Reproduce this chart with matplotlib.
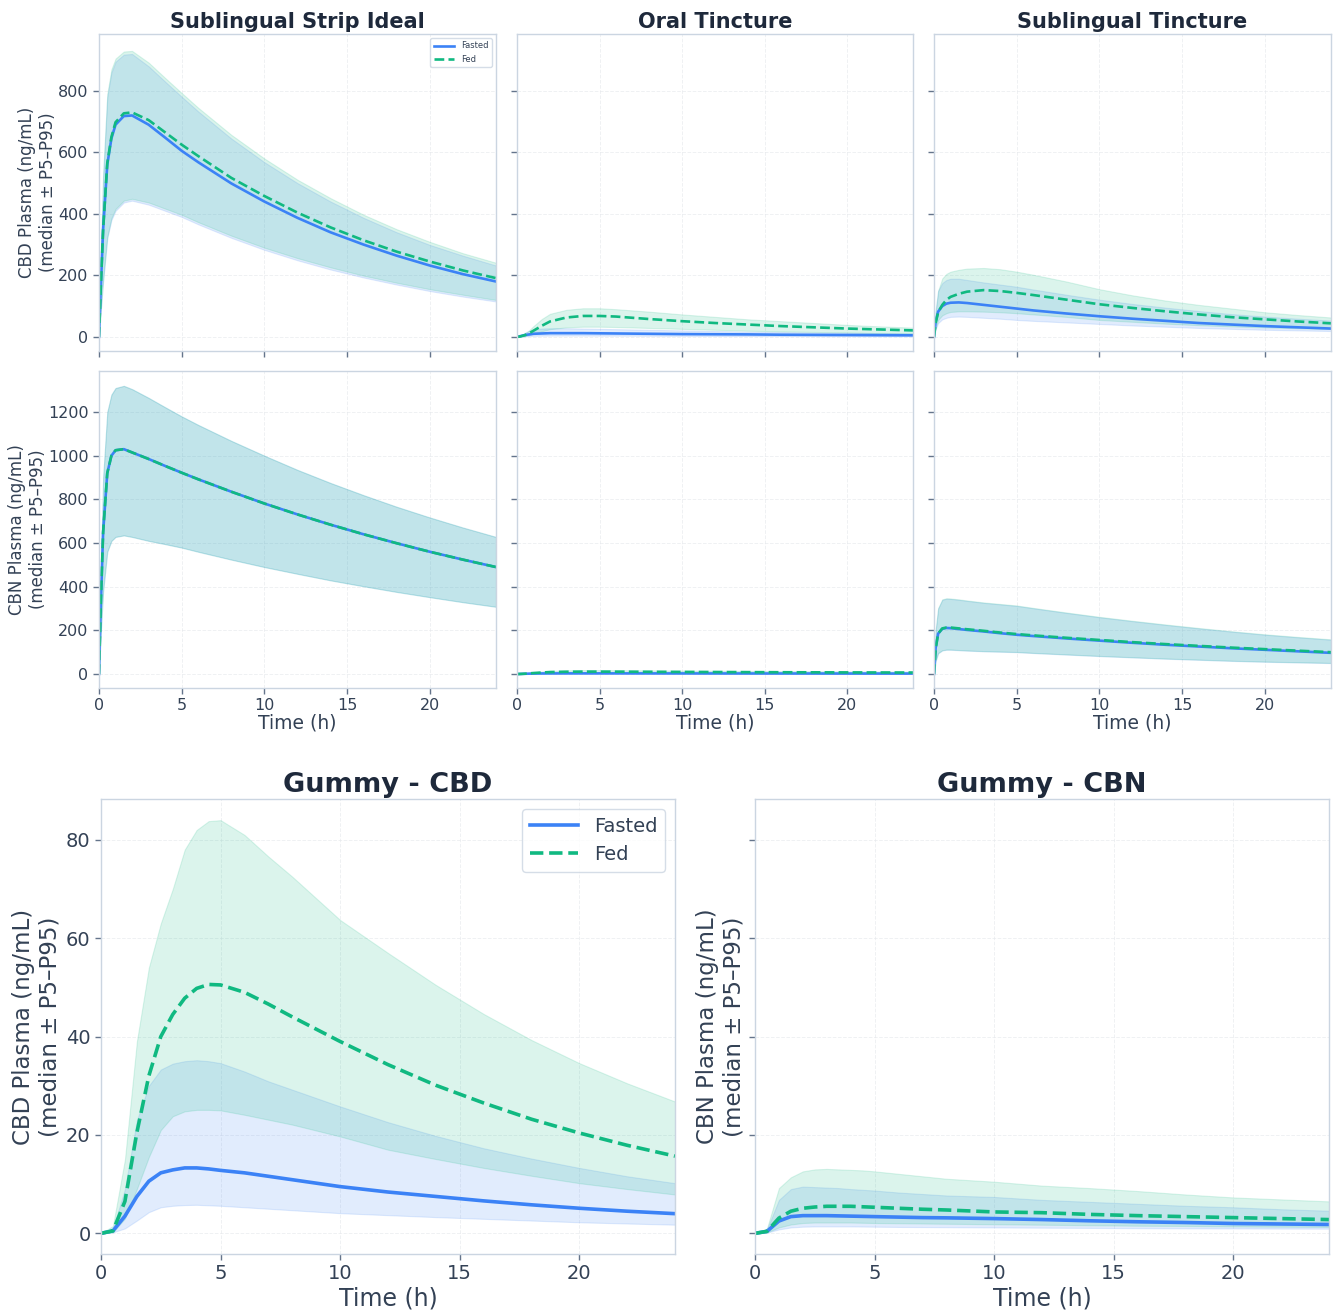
import matplotlib
matplotlib.use("Agg")
import matplotlib.pyplot as plt

# ---------------- data ----------------
T_fast = [0, 0.1, 0.25, 0.5, 0.75, 1, 1.5, 2, 3, 4, 5, 6, 8, 10, 12, 14, 16, 18, 20, 22, 24]
T_gummy = [0, 0.5, 1, 1.5, 2, 2.5, 3, 3.5, 4, 4.5, 5, 6, 7, 8, 10, 12, 14, 16, 18, 20, 22, 24]

# Sublingual Strip Ideal - CBD
strip_cbd_fasted_med = [0, 150, 350, 560, 645, 690, 718, 720, 690, 648, 605, 568, 499, 440, 387, 340, 300, 264, 232, 204, 180]
strip_cbd_fasted_p95 = [0, 250, 520, 780, 860, 895, 918, 920, 880, 830, 781, 733, 645, 568, 500, 440, 387, 340, 299, 264, 232]
strip_cbd_fasted_p5 = [0, 80, 180, 320, 380, 410, 437, 443, 430, 410, 390, 366, 322, 283, 249, 219, 193, 170, 149, 131, 115]
strip_cbd_fed_med = [0, 150, 350, 565, 650, 698, 727, 730, 705, 665, 625, 588, 517, 458, 404, 356, 314, 277, 245, 216, 191]
strip_cbd_fed_p95 = [0, 255, 530, 790, 870, 905, 928, 930, 892, 842, 793, 745, 657, 580, 511, 451, 397, 350, 309, 272, 241]
strip_cbd_fed_p5 = [0, 82, 185, 325, 386, 416, 443, 449, 437, 417, 397, 373, 329, 290, 256, 226, 199, 176, 155, 137, 120]

# Sublingual Strip Ideal - CBN
strip_cbn_fasted_med = [0, 300, 650, 920, 1000, 1025, 1030, 1015, 985, 953, 922, 892, 835, 781, 731, 684, 640, 599, 560, 524, 490]
strip_cbn_fasted_p95 = [0, 450, 900, 1200, 1280, 1310, 1320, 1305, 1265, 1222, 1180, 1141, 1068, 1000, 935, 875, 819, 766, 717, 671, 628]
strip_cbn_fasted_p5 = [0, 180, 380, 560, 610, 628, 635, 628, 610, 595, 579, 560, 524, 490, 459, 429, 402, 376, 352, 329, 308]
strip_cbn_fed_med = [0, 300, 650, 920, 1000, 1025, 1030, 1015, 985, 953, 922, 892, 835, 781, 731, 684, 640, 599, 560, 524, 490]
strip_cbn_fed_p95 = [0, 450, 900, 1200, 1280, 1310, 1320, 1305, 1265, 1222, 1180, 1141, 1068, 1000, 935, 875, 819, 766, 717, 671, 628]
strip_cbn_fed_p5 = [0, 180, 380, 560, 610, 628, 635, 628, 610, 595, 579, 560, 524, 490, 459, 429, 402, 376, 352, 329, 308]

# Oral Tincture - CBD
oral_cbd_fasted_med = [0, 1, 3, 6, 8, 10, 11, 12, 12, 12, 11.5, 11, 10, 9, 8.5, 8, 7, 6.5, 6, 5.5, 5]
oral_cbd_fasted_p95 = [0, 2, 6, 14, 20, 24, 27, 28, 28, 27, 26, 25, 23, 21, 19, 17, 16, 14, 13, 12, 11]
oral_cbd_fasted_p5 = [0, 0.3, 1, 2, 3, 3.5, 4, 4.2, 4.3, 4.2, 4, 3.9, 3.6, 3.3, 3, 2.8, 2.6, 2.4, 2.2, 2, 1.8]
oral_cbd_fed_med = [0, 0.5, 2, 6, 12, 20, 36, 50, 63, 68, 68, 66, 58, 51, 45, 40, 35, 31, 27, 24, 21]
oral_cbd_fed_p95 = [0, 1, 4, 12, 22, 35, 58, 75, 88, 93, 93, 90, 82, 73, 65, 57, 51, 45, 39, 34, 30]
oral_cbd_fed_p5 = [0, 0.2, 1, 3, 6, 10, 18, 25, 31, 33, 33, 32, 29, 26, 23, 20, 18, 16, 14, 12, 11]

# Oral Tincture - CBN
oral_cbn_fasted_med = [0, 0.2, 0.6, 1.2, 1.8, 2.2, 2.6, 2.8, 3, 3, 3, 2.95, 2.85, 2.75, 2.65, 2.55, 2.45, 2.35, 2.25, 2.15, 2.1]
oral_cbn_fasted_p95 = [0, 0.4, 1.2, 2.4, 3.6, 4.4, 5.2, 5.6, 6, 6, 6, 5.9, 5.7, 5.5, 5.3, 5.1, 4.9, 4.7, 4.5, 4.3, 4.2]
oral_cbn_fasted_p5 = [0, 0.08, 0.24, 0.5, 0.7, 0.9, 1, 1.1, 1.2, 1.2, 1.2, 1.18, 1.14, 1.1, 1.06, 1.02, 0.98, 0.94, 0.9, 0.86, 0.84]
oral_cbn_fed_med = [0, 0.1, 0.5, 1.5, 3, 4.5, 7, 9, 10.5, 11, 11, 10.8, 10.2, 9.6, 9.1, 8.6, 8.2, 7.8, 7.4, 7.1, 6.8]
oral_cbn_fed_p95 = [0, 0.2, 0.8, 2.5, 5, 7.5, 11.5, 14.5, 17, 18, 18, 17.7, 16.8, 15.9, 15, 14.2, 13.5, 12.8, 12.2, 11.7, 11.2]
oral_cbn_fed_p5 = [0, 0.05, 0.25, 0.7, 1.5, 2.2, 3.5, 4.5, 5.2, 5.5, 5.5, 5.4, 5.1, 4.8, 4.5, 4.3, 4.1, 3.9, 3.7, 3.5, 3.4]

# Sublingual Tincture - CBD
sl_cbd_fasted_med = [0, 50, 82, 100, 108, 111, 112, 110, 104, 98, 92, 86, 76, 67, 59, 52, 45, 40, 35, 31, 27]
sl_cbd_fasted_p95 = [0, 90, 150, 175, 185, 189, 189, 185, 177, 170, 163, 154, 137, 121, 107, 95, 84, 74, 66, 59, 53]
sl_cbd_fasted_p5 = [0, 25, 45, 57, 62, 65, 66, 65, 62, 59, 55, 52, 47, 42, 37, 33, 29, 26, 23, 21, 19]
sl_cbd_fed_med = [0, 45, 80, 104, 120, 130, 140, 147, 152, 149, 143, 136, 121, 106, 94, 83, 73, 64, 57, 50, 44]
sl_cbd_fed_p95 = [0, 80, 150, 190, 205, 212, 218, 222, 224, 220, 212, 202, 180, 155, 135, 118, 104, 92, 80, 71, 63]
sl_cbd_fed_p5 = [0, 30, 55, 70, 77, 81, 83, 83, 82, 80, 77, 73, 65, 55, 49, 43, 38, 34, 31, 28, 26]

# Sublingual Tincture - CBN
sl_cbn_fasted_med = [0, 120, 185, 207, 211, 210, 206, 202, 195, 187, 180, 174, 163, 153, 143, 134, 126, 118, 111, 104, 97]
sl_cbn_fasted_p95 = [0, 200, 300, 340, 345, 344, 340, 335, 326, 319, 312, 301, 280, 260, 242, 225, 209, 194, 180, 168, 157]
sl_cbn_fasted_p5 = [0, 60, 95, 108, 111, 111, 109, 107, 104, 102, 100, 96, 89, 82, 76, 70, 65, 60, 56, 53, 50]
sl_cbn_fed_med = [0, 115, 185, 209, 213, 213, 209, 205, 198, 190, 183, 177, 166, 156, 146, 137, 129, 121, 114, 107, 100]
sl_cbn_fed_p95 = [0, 202, 302, 342, 347, 346, 342, 337, 328, 321, 314, 303, 282, 262, 244, 227, 211, 196, 182, 170, 159]
sl_cbn_fed_p5 = [0, 61, 96, 109, 112, 112, 110, 108, 105, 103, 101, 97, 90, 83, 77, 71, 66, 61, 57, 54, 51]

# Gummy - CBD
gum_cbd_fasted_med = [0, 0.5, 3.5, 7.5, 10.6, 12.3, 12.9, 13.3, 13.3, 13.1, 12.8, 12.3, 11.6, 10.9, 9.5, 8.4, 7.5, 6.6, 5.8, 5.1, 4.5, 4.0]
gum_cbd_fasted_p95 = [0, 1, 9, 23, 30, 33.3, 34.5, 35, 35.2, 35, 34.6, 32.9, 30.9, 29.2, 25.8, 22.6, 19.8, 17.3, 15.2, 13.3, 11.6, 10.2]
gum_cbd_fasted_p5 = [0, 0.2, 1.0, 2.6, 4.3, 5.3, 5.6, 5.75, 5.8, 5.7, 5.6, 5.3, 5.0, 4.7, 4.1, 3.7, 3.3, 2.95, 2.6, 2.25, 2.0, 1.76]
gum_cbd_fed_med = [0, 0.5, 6.5, 20.5, 32, 40, 44.5, 47.8, 49.8, 50.6, 50.5, 49, 46.6, 44, 39, 34.3, 30.1, 26.5, 23.2, 20.4, 17.9, 15.7]
gum_cbd_fed_p95 = [0, 1.5, 15, 39, 54, 63, 70, 78, 82, 83.8, 84, 81, 76.6, 72.5, 63.7, 57, 50.5, 44.6, 39.3, 34.6, 30.5, 26.8]
gum_cbd_fed_p5 = [0, 0.2, 3, 9, 15.5, 21, 23.8, 24.8, 25.1, 25.1, 25, 24.1, 23.1, 22.1, 19.7, 17, 15.1, 13.3, 11.7, 10.2, 9, 7.9]

# Gummy - CBN
gum_cbn_fasted_med = [0, 0.4, 2.5, 3.4, 3.6, 3.6, 3.6, 3.55, 3.5, 3.45, 3.4, 3.3, 3.2, 3.15, 3.0, 2.8, 2.55, 2.35, 2.2, 2.0, 1.9, 1.8]
gum_cbn_fasted_p95 = [0, 0.8, 6.8, 9.0, 9.5, 9.4, 9.3, 9.2, 9.0, 8.85, 8.7, 8.3, 8.0, 7.7, 7.4, 6.8, 6.4, 6.0, 5.6, 5.3, 4.9, 4.6]
gum_cbn_fasted_p5 = [0, 0.15, 0.8, 1.2, 1.35, 1.4, 1.4, 1.4, 1.4, 1.38, 1.35, 1.3, 1.28, 1.25, 1.2, 1.15, 1.1, 1.05, 1.02, 1.0, 0.97, 0.95]
gum_cbn_fed_med = [0, 0.4, 3.1, 4.5, 5.1, 5.35, 5.5, 5.5, 5.5, 5.4, 5.3, 5.1, 4.9, 4.75, 4.35, 4.2, 3.85, 3.6, 3.4, 3.2, 3.0, 2.8]
gum_cbn_fed_p95 = [0, 1, 9.2, 11.4, 12.6, 13.0, 13.1, 13.0, 12.9, 12.8, 12.6, 12.1, 11.6, 11.1, 10.5, 9.7, 9.2, 8.6, 7.9, 7.3, 6.9, 6.5]
gum_cbn_fed_p5 = [0, 0.2, 1.2, 1.8, 2.1, 2.2, 2.2, 2.2, 2.2, 2.15, 2.1, 2.05, 2.0, 1.95, 1.85, 1.75, 1.65, 1.55, 1.5, 1.4, 1.35, 1.3]

top_titles = ["Sublingual Strip Ideal", "Oral Tincture", "Sublingual Tincture"]
bottom_titles = ["Gummy - CBD", "Gummy - CBN"]
conditions = ["Fasted", "Fed"]
cbd_label = "CBD Plasma (ng/mL)\n(median ± P5–P95)"
cbn_label = "CBN Plasma (ng/mL)\n(median ± P5–P95)"
x_label = "Time (h)"

# ---------------- style ----------------
BLUE = "#3b82f6"
GREEN = "#10b981"
TITLE_C = "#1e293b"
TEXT_C = "#334155"
SPINE_C = "#cbd5e1"
TICK_C = "#64748b"
GRID_C = "#e5e7eb"

plt.rcParams["font.family"] = ["DejaVu Sans"]

W, H = 1335, 1315
fig = plt.figure(figsize=(W / 100, H / 100), dpi=100)


def px_axes(l, t, r, b):
    return fig.add_axes([l / W, 1 - b / H, (r - l) / W, (b - t) / H])


def style(ax, tick_size):
    for s in ax.spines.values():
        s.set_color(SPINE_C)
        s.set_linewidth(1.0)
    ax.tick_params(colors=TICK_C, labelcolor=TEXT_C, labelsize=tick_size, length=4, width=1)
    ax.grid(True, linestyle="--", color=GRID_C, linewidth=0.7, alpha=0.6)
    ax.set_axisbelow(True)
    ax.set_xlim(0, 24)


def draw(ax, t, fmed, flo, fhi, dmed, dlo, dhi, lw):
    ax.fill_between(t, flo, fhi, color=BLUE, alpha=0.15, linewidth=0.8)
    ax.fill_between(t, dlo, dhi, color=GREEN, alpha=0.15, linewidth=0.8)
    ax.plot(t, fmed, color=BLUE, lw=lw, label=conditions[0])
    ax.plot(t, dmed, color=GREEN, lw=lw, ls="--", label=conditions[1])


cols = [(99, 496), (517, 913), (934, 1331)]
rows = [(34, 351), (371, 688)]

top_data = [
    [(strip_cbd_fasted_med, strip_cbd_fasted_p5, strip_cbd_fasted_p95, strip_cbd_fed_med, strip_cbd_fed_p5, strip_cbd_fed_p95),
     (oral_cbd_fasted_med, oral_cbd_fasted_p5, oral_cbd_fasted_p95, oral_cbd_fed_med, oral_cbd_fed_p5, oral_cbd_fed_p95),
     (sl_cbd_fasted_med, sl_cbd_fasted_p5, sl_cbd_fasted_p95, sl_cbd_fed_med, sl_cbd_fed_p5, sl_cbd_fed_p95)],
    [(strip_cbn_fasted_med, strip_cbn_fasted_p5, strip_cbn_fasted_p95, strip_cbn_fed_med, strip_cbn_fed_p5, strip_cbn_fed_p95),
     (oral_cbn_fasted_med, oral_cbn_fasted_p5, oral_cbn_fasted_p95, oral_cbn_fed_med, oral_cbn_fed_p5, oral_cbn_fed_p95),
     (sl_cbn_fasted_med, sl_cbn_fasted_p5, sl_cbn_fasted_p95, sl_cbn_fed_med, sl_cbn_fed_p5, sl_cbn_fed_p95)],
]
row_ylims = [(-46, 985), (-64, 1388)]
row_yticks = [[0, 200, 400, 600, 800], [0, 200, 400, 600, 800, 1000, 1200]]
row_labels = [cbd_label, cbn_label]

for r, (yt, yb) in enumerate(rows):
    for c, (xl, xr) in enumerate(cols):
        ax = px_axes(xl, yt, xr, yb)
        style(ax, 11.5)
        draw(ax, T_fast, *top_data[r][c], lw=1.9)
        ax.set_ylim(*row_ylims[r])
        ax.set_yticks(row_yticks[r])
        ax.set_xticks([0, 5, 10, 15, 20])
        if c == 0:
            ax.set_ylabel(row_labels[r], fontsize=12, color=TEXT_C, labelpad=1)
        else:
            ax.tick_params(labelleft=False)
        if r == 0:
            ax.set_title(top_titles[c], fontsize=15, fontweight="bold", color=TITLE_C, pad=4)
            ax.tick_params(labelbottom=False)
        else:
            ax.set_xlabel(x_label, fontsize=13.5, color=TEXT_C, labelpad=0)
        if r == 0 and c == 0:
            leg = ax.legend(loc="upper right", fontsize=6, frameon=True, handlelength=2.5)
            leg.get_frame().set_edgecolor(SPINE_C)
            for txt in leg.get_texts():
                txt.set_color(TEXT_C)

# bottom panels
gum_data = [
    (gum_cbd_fasted_med, gum_cbd_fasted_p5, gum_cbd_fasted_p95, gum_cbd_fed_med, gum_cbd_fed_p5, gum_cbd_fed_p95),
    (gum_cbn_fasted_med, gum_cbn_fasted_p5, gum_cbn_fasted_p95, gum_cbn_fed_med, gum_cbn_fed_p5, gum_cbn_fed_p95),
]
bcols = [(101, 675), (755, 1329)]
for i, (xl, xr) in enumerate(bcols):
    ax = px_axes(xl, 799, xr, 1254)
    style(ax, 14)
    draw(ax, T_gummy, *gum_data[i], lw=2.6)
    ax.set_ylim(-4.2, 88.3)
    ax.set_yticks([0, 20, 40, 60, 80])
    ax.set_xticks([0, 5, 10, 15, 20])
    ax.set_title(bottom_titles[i], fontsize=19.5, fontweight="bold", color=TITLE_C, pad=5)
    ax.set_xlabel(x_label, fontsize=17, color=TEXT_C, labelpad=2)
    ax.set_ylabel(cbd_label if i == 0 else cbn_label, fontsize=16.5, color=TEXT_C, labelpad=3)
    if i == 1:
        ax.tick_params(labelleft=False)
    else:
        leg = ax.legend(loc="upper right", fontsize=14, frameon=True, handlelength=2.5)
        leg.get_frame().set_edgecolor(SPINE_C)
        for txt in leg.get_texts():
            txt.set_color(TEXT_C)

fig.savefig("out.png", dpi=100, facecolor="white")
